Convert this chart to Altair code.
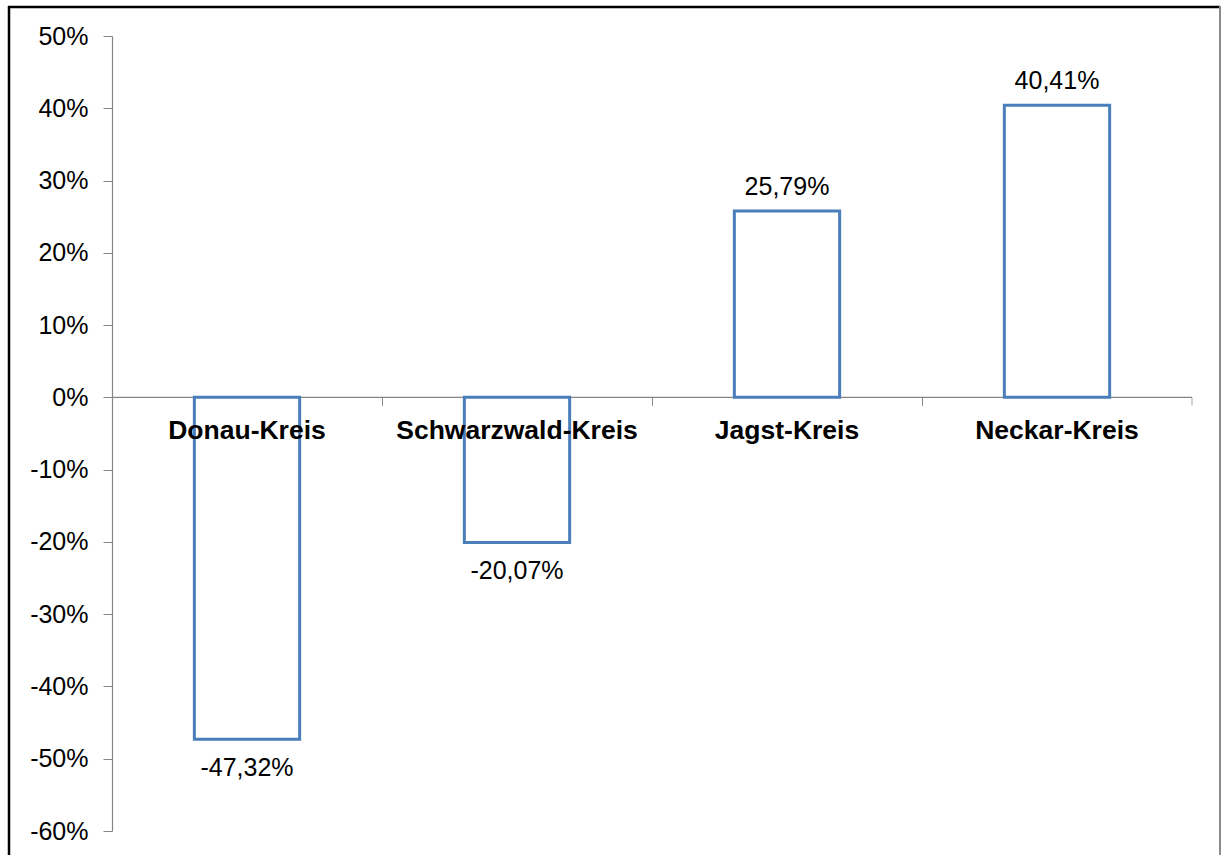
import altair as alt
import pandas as pd

# Change per district, in percent
districts = ["Donau-Kreis", "Schwarzwald-Kreis", "Jagst-Kreis", "Neckar-Kreis"]
changes = [-47.32, -20.07, 25.79, 40.41]
y_ticks = [-60, -50, -40, -30, -20, -10, 0, 10, 20, 30, 40, 50]

df = pd.DataFrame({"district": districts, "change": changes})

W, H = 1080, 795
Y_MIN, Y_MAX = -60, 50
FONT = "Liberation Sans"
FS = 25
AXIS_GRAY = "#868686"
BAR_BLUE = "#4a7ebb"

base = alt.Chart(df)

x_enc = alt.X(
    "district:N",
    sort=districts,
    scale=alt.Scale(paddingInner=0, paddingOuter=0),
    axis=alt.Axis(
        title=None,
        domain=False,
        labelAngle=0,
        labelFont=FONT,
        labelFontSize=26.5,
        labelFontWeight="bold",
        labelColor="black",
        labelPadding=12,
        labelLimit=400,
        tickColor=AXIS_GRAY,
        tickSize=8,
        tickWidth=1,
        bandPosition=0,
        offset=-H * (0 - Y_MIN) / (Y_MAX - Y_MIN),
        zindex=1,
    ),
)

y_enc = alt.Y(
    "change:Q",
    scale=alt.Scale(domain=[Y_MIN, Y_MAX], nice=False, zero=False),
    axis=alt.Axis(
        title=None,
        values=y_ticks,
        labelExpr="datum.value + '%'",
        labelFont=FONT,
        labelFontSize=FS,
        labelColor="black",
        labelPadding=15,
        tickColor=AXIS_GRAY,
        tickSize=9,
        domainColor=AXIS_GRAY,
        domainWidth=1.2,
        grid=False,
    ),
)

zero_line = alt.Chart(pd.DataFrame({"v": [0]})).mark_rule(
    color=AXIS_GRAY, strokeWidth=1.2
).encode(y=alt.Y("v:Q", scale=alt.Scale(domain=[Y_MIN, Y_MAX], nice=False)))

end_tick = alt.Chart(pd.DataFrame({"v": [0]})).mark_tick(
    orient="vertical", size=8, thickness=1, color=AXIS_GRAY, yOffset=4
).encode(
    x=alt.value(W),
    y=alt.Y("v:Q", scale=alt.Scale(domain=[Y_MIN, Y_MAX], nice=False)),
)

bars = base.mark_bar(
    width=alt.RelativeBandSize(0.39),
    fill="white",
    stroke=BAR_BLUE,
    strokeWidth=3,
).encode(x=x_enc, y=y_enc, y2=alt.datum(0))

label_text = (
    "(datum.change < 0 ? '-' : '') + "
    "replace(format(abs(datum.change), '.2f'), '.', ',') + '%'"
)

labels_pos = base.transform_filter("datum.change >= 0").transform_calculate(
    label=label_text
).mark_text(font=FONT, fontSize=FS, color="black", baseline="middle", dy=-24).encode(
    x=alt.X("district:N", sort=districts),
    y=alt.Y("change:Q"),
    text="label:N",
)

labels_neg = base.transform_filter("datum.change < 0").transform_calculate(
    label=label_text
).mark_text(font=FONT, fontSize=FS, color="black", baseline="middle", dy=29).encode(
    x=alt.X("district:N", sort=districts),
    y=alt.Y("change:Q"),
    text="label:N",
)

# Outer frame lines
frame_df = pd.DataFrame({"v": [0]})
frame_top = alt.Chart(frame_df).mark_rule(color="black", strokeWidth=2.5).encode(
    x=alt.value(-104), x2=alt.value(1108), y=alt.value(-29)
)
frame_left = alt.Chart(frame_df).mark_rule(color="black", strokeWidth=2.5).encode(
    x=alt.value(-103), y=alt.value(-30), y2=alt.value(830)
)
frame_right = alt.Chart(frame_df).mark_rule(color="#8a8a8a", strokeWidth=2).encode(
    x=alt.value(1108), y=alt.value(-30), y2=alt.value(830)
)

chart = alt.layer(
    zero_line, end_tick, bars, labels_pos, labels_neg, frame_top, frame_left, frame_right
).properties(
    width=W,
    height=H,
    autosize=alt.AutoSizeParams(type="none"),
    padding={"left": 112, "top": 36, "right": 29, "bottom": 24},
    background="white",
).configure_view(stroke=None).configure_axis(labelFlush=False)

chart.save("out.html", embed_options={"renderer": "svg", "actions": False})
